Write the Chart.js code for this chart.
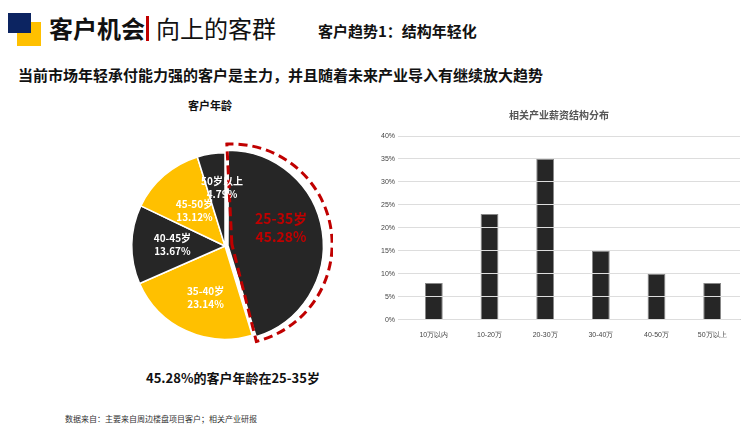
<!DOCTYPE html><html><head><meta charset="utf-8">
<script src="https://cdn.jsdelivr.net/npm/chart.js@4"></script>
<style>
body{margin:0;width:752px;height:444px;background:#fff;position:relative;overflow:hidden;font-family:"Noto Sans CJK SC",sans-serif}
.a{position:absolute;white-space:nowrap}
</style></head><body>
<div class="a" style="left:17px;top:22px;width:24px;height:24px;background:#FFC000"></div>
<div class="a" style="left:8px;top:13px;width:23px;height:20px;background:#0c2461"></div>
<div class="a" style="left:49px;top:10px;font-size:24px;font-weight:bold;color:#111">客户机会</div>
<div class="a" style="left:146px;top:16px;width:3px;height:25px;background:#c00000"></div>
<div class="a" style="left:156px;top:10px;font-size:24px;color:#111">向上的客群</div>
<div class="a" style="left:318px;top:20px;font-size:15px;font-weight:bold;color:#111">客户趋势1：结构年轻化</div>
<div class="a" style="left:18px;top:64px;font-size:15px;font-weight:bold;color:#111">当前市场年轻承付能力强的客户是主力，并且随着未来产业导入有继续放大趋势</div>
<div class="a" style="left:188px;top:97px;font-size:11px;font-weight:bold;color:#111">客户年龄</div>
<div class="a" style="left:146px;top:368px;font-size:13px;font-weight:bold;color:#111">45.28%的客户年龄在25-35岁</div>
<div class="a" style="left:65px;top:413px;font-size:8px;color:#333">数据来自：主要来自周边楼盘项目客户；相关产业研报</div>
<canvas id="p" class="a" style="left:117px;top:138px;width:216px;height:216px"></canvas>
<canvas id="b" class="a" style="left:370px;top:105px;width:380px;height:237px"></canvas>
<script>
const ageLabels=["25-35岁","35-40岁","40-45岁","45-50岁","50岁以上"];
const ageValues=[45.28,23.14,13.67,13.12,4.79];
const ageColors=["#262626","#FFC000","#262626","#FFC000","#262626"];
const salaryLabels=["10万以内","10-20万","20-30万","30-40万","40-50万","50万以上"];
const salaryValues=[8,23,35,15,10,8];

const pieDeco={id:'pd',afterDatasetsDraw(c){
  const ctx=c.ctx, meta=c.getDatasetMeta(0);
  const a=meta.data[0];
  const {x,y,startAngle,endAngle,outerRadius}=a.getProps(['x','y','startAngle','endAngle','outerRadius'],true);
  const off=12, mid=(startAngle+endAngle)/2;
  const cx=x+Math.cos(mid)*off, cy=y+Math.sin(mid)*off;
  ctx.save();ctx.strokeStyle='#c00000';ctx.lineWidth=3;ctx.setLineDash([9,5]);
  const R=outerRadius+7;
  ctx.beginPath();
  ctx.moveTo(cx-5,cy);
  ctx.arc(cx-5,cy,R,startAngle-0.05,endAngle+0.05);
  ctx.closePath();ctx.stroke();ctx.restore();
  meta.data.forEach((el,i)=>{
    const p=el.tooltipPosition();
    ctx.save();ctx.textAlign='center';ctx.textBaseline='middle';
    if(i===0){ctx.fillStyle='#c00000';ctx.font='bold 14px "Noto Sans CJK SC"';
      ctx.fillText(ageLabels[i],p.x+4,p.y-20);ctx.fillText(ageValues[i].toFixed(2)+'%',p.x+4,p.y-2);}
    else{ctx.fillStyle='#fff';ctx.font='bold 10px "Noto Sans CJK SC"';
      let dx=0,dy=0; if(i===4){dx=4;dy=-12;} if(i===2){dx=-6} if(i===1){dy=10}
      ctx.fillText(ageLabels[i],p.x+dx,p.y+dy-7);ctx.fillText(ageValues[i].toFixed(2)+'%',p.x+dx,p.y+dy+6);}
    ctx.restore();
  });
}};
new Chart(document.getElementById('p'),{type:'pie',
  data:{labels:ageLabels,datasets:[{data:ageValues,backgroundColor:ageColors,borderColor:'#fff',borderWidth:1.5,offset:[12,0,0,0,0]}]},
  options:{responsive:false,animation:false,layout:{padding:8},plugins:{legend:{display:false},tooltip:{enabled:false}}},
  plugins:[pieDeco]});

new Chart(document.getElementById('b'),{type:'bar',
  data:{labels:salaryLabels,datasets:[{data:salaryValues,backgroundColor:'#262626',borderColor:'#888',borderWidth:{left:1,right:1,top:1},barPercentage:0.32,categoryPercentage:1}]},
  options:{responsive:false,animation:false,layout:{padding:{right:10,left:8}},
    plugins:{legend:{display:false},tooltip:{enabled:false},
      title:{display:true,text:'相关产业薪资结构分布',color:'#555',font:{size:10,weight:'bold',family:'"Noto Sans CJK SC"'},padding:{top:4,bottom:15}}},
    scales:{x:{grid:{display:false},border:{color:'#ccc'},ticks:{color:'#444',font:{size:7}}},
      y:{min:0,max:40,ticks:{stepSize:5,color:'#444',font:{size:7},callback:v=>v+'%'},grid:{color:'#ddd',z:1},border:{display:false}}}}});
</script></body></html>
